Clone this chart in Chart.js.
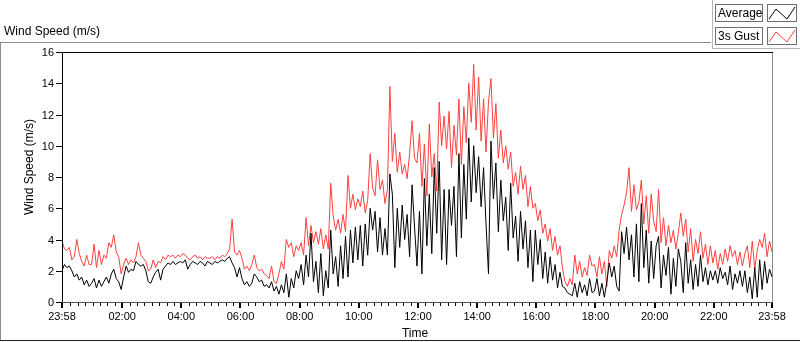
<!DOCTYPE html>
<html>
<head>
<meta charset="utf-8">
<script src="https://cdn.jsdelivr.net/npm/chart.js@4.4.1/dist/chart.umd.min.js"></script>
<style>
  html, body { margin: 0; padding: 0; background: #fff; }
  #wind { display: block; }
</style>
</head>
<body>
<canvas id="wind" width="800" height="342"></canvas>
<script>
// minutes from 23:58, one sample every 5 minutes
const stepMin = 5;

// Average wind speed (m/s), one row per hour
const avgSpeed = [
  2.0, 2.4, 2.2, 2.3, 2.0, 1.6, 1.8, 1.4, 1.6, 1.1, 1.4, 1.0,
  1.2, 1.5, 0.9, 1.4, 1.0, 1.3, 1.6, 1.2, 1.8, 2.1, 1.5, 1.3,
  0.8, 1.6, 2.3, 1.9, 2.1, 2.0, 2.6, 2.4, 2.3, 2.4, 2.0, 1.3,
  1.2, 1.6, 1.9, 2.1, 1.4, 2.1, 2.3, 2.5, 2.4, 2.6, 2.4, 2.5,
  2.6, 2.5, 2.7, 2.1, 2.4, 2.6, 2.5, 2.4, 2.6, 2.5, 2.3, 2.6,
  2.5, 2.4, 2.6, 2.5, 2.6, 2.7, 2.6, 2.8, 2.9, 2.5, 2.2, 1.6,
  2.2, 1.5, 1.1, 1.3, 1.0, 1.2, 1.8, 1.6, 1.3, 1.4, 1.0, 1.1,
  0.9, 1.3, 0.7, 1.0, 0.5, 1.1, 0.6, 1.8, 0.3, 1.5, 0.9, 2.0,
  1.5, 2.4, 1.1, 3.0, 1.6, 4.4, 1.3, 2.6, 0.6, 3.1, 0.4, 2.0,
  0.9, 4.6, 1.8, 2.9, 1.0, 3.6, 1.5, 4.2, 1.6, 4.6, 2.5, 4.8,
  2.7, 4.9, 2.3, 5.0, 3.0, 6.0, 4.6, 5.8, 3.2, 5.4, 3.0, 4.7,
  3.0, 8.2, 6.9, 2.2, 6.0, 3.5, 6.2, 4.0, 5.6, 2.9, 7.5, 4.8,
  2.3, 5.8, 1.8, 7.9, 3.6, 6.9, 3.1, 8.6, 4.4, 9.0, 2.7, 7.2,
  2.4, 7.2, 4.9, 7.4, 2.9, 9.5, 4.1, 8.8, 5.3, 10.5, 6.4, 10.0,
  7.0, 9.3, 6.1, 8.6, 5.0, 1.8, 10.3, 6.6, 8.9, 4.5, 7.8, 5.2,
  6.7, 3.3, 7.6, 4.1, 5.5, 2.6, 5.8, 3.4, 5.2, 2.2, 4.6, 1.3,
  4.6, 2.4, 4.0, 1.5, 3.2, 1.2, 2.9, 1.4, 2.4, 0.9, 1.9, 1.0,
  0.9, 0.6, 0.5, 0.4, 1.2, 0.3, 1.3, 0.6, 1.1, 0.4, 1.5, 0.6,
  0.7, 1.5, 0.4, 1.2, 0.3, 1.3, 2.5, 1.6, 2.3, 1.0, 0.7, 4.5,
  3.1, 4.8, 2.7, 4.3, 1.6, 5.0, 1.3, 6.3, 2.2, 4.6, 1.2, 3.9,
  1.5, 3.6, 4.2, 0.9, 3.0, 1.7, 3.5, 0.5, 2.8, 1.0, 3.4, 2.6,
  0.6, 3.8, 1.2, 2.7, 0.8, 2.4, 1.0, 3.0, 1.3, 2.2, 1.1, 2.0,
  1.4, 2.0, 1.2, 2.2, 1.5, 1.9, 1.1, 2.3, 0.8, 1.8, 1.2, 2.0,
  1.0, 2.0, 0.6, 1.6, 0.2, 2.2, 0.3, 2.7, 0.8, 2.6, 1.2, 2.1, 1.6
];

// 3 second gust (m/s)
const gustSpeed = [
  3.9, 3.4, 3.3, 3.5, 2.7, 2.9, 4.0, 3.1, 2.6, 2.3, 3.0, 2.4,
  2.4, 3.7, 2.2, 3.3, 2.4, 3.0, 2.8, 3.8, 3.5, 4.3, 3.2, 2.9,
  1.8, 2.4, 2.8, 2.4, 2.7, 2.5, 2.9, 3.8, 3.0, 2.8, 2.6, 2.0,
  2.1, 2.7, 2.2, 2.6, 2.5, 2.9, 2.7, 3.0, 2.9, 3.0, 2.8, 3.0,
  2.9, 3.1, 3.0, 2.8, 2.7, 2.9, 3.0, 2.8, 2.9, 2.7, 2.9, 2.8,
  2.8, 2.9, 2.7, 2.9, 2.8, 3.0, 2.9, 3.1, 3.4, 5.3, 3.2, 3.0,
  3.3, 2.8, 2.1, 2.3, 2.0, 2.4, 3.0, 2.2, 2.0, 2.1, 1.8, 1.7,
  1.5, 2.3, 1.3, 1.2, 1.8, 2.6, 2.1, 4.0, 3.5, 3.8, 2.9, 3.6,
  3.3, 3.8, 3.0, 5.4, 3.6, 4.9, 3.8, 4.5, 3.7, 4.7, 3.4, 4.3,
  3.4, 7.6, 5.5, 4.6, 5.3, 4.4, 5.6, 4.5, 8.1, 6.0, 6.9, 5.9,
  6.6, 6.1, 7.1, 5.7, 6.5, 9.5, 7.3, 6.8, 9.1, 7.2, 7.8, 6.3,
  7.2, 13.8, 9.0, 10.8, 8.3, 9.6, 8.2, 8.8, 7.9, 9.5, 11.6, 9.2,
  8.9, 10.8, 7.4, 10.1, 6.8, 11.4, 8.0, 9.5, 7.1, 12.8, 10.0, 11.9,
  9.8, 12.2, 8.6, 11.3, 9.4, 13.0, 8.8, 12.5, 10.2, 14.0, 11.5, 15.2,
  11.0, 14.4, 10.3, 13.0, 9.6, 12.8, 14.3, 10.5, 12.7, 9.2, 11.0, 8.9,
  10.0, 8.5, 9.6, 7.4, 8.3, 6.9, 8.7, 7.2, 8.1, 6.1, 7.4, 6.0,
  6.3, 5.2, 5.9, 4.4, 5.0, 3.9, 4.7, 3.3, 4.2, 3.0, 3.6, 2.2,
  1.3, 1.0, 1.5, 1.1, 3.0, 1.8, 2.6, 1.6, 2.2, 1.7, 3.0, 2.3,
  2.4, 1.6, 2.9, 1.8, 2.6, 1.0, 3.3, 2.8, 3.6, 2.9, 4.6, 5.6,
  6.2, 7.0, 8.6, 5.8, 7.5, 5.9, 6.4, 7.8, 5.0, 6.8, 4.4, 6.9,
  5.2, 4.5, 7.2, 3.8, 5.4, 3.6, 4.9, 3.8, 4.6, 3.4, 4.4, 5.7,
  4.2, 5.3, 3.2, 4.7, 2.6, 4.0, 3.1, 4.5, 2.8, 3.7, 2.4, 3.6,
  2.5, 3.3, 2.1, 3.1, 2.4, 3.4, 2.6, 3.6, 2.9, 3.3, 2.4, 3.2,
  2.3, 3.1, 3.6, 2.2, 3.9, 2.1, 3.3, 4.0, 3.5, 4.4, 2.9, 3.9, 3.2
];

// axis ticks
const timeTicks = [0, 122, 242, 362, 482, 602, 722, 842, 962, 1082, 1202, 1322, 1440];
const timeLabels = ['23:58', '02:00', '04:00', '06:00', '08:00', '10:00', '12:00',
                    '14:00', '16:00', '18:00', '20:00', '22:00', '23:58'];
const speedTicks = [0, 2, 4, 6, 8, 10, 12, 14, 16];

const legendNames = ['Average', '3s Gust'];
const lineColors = ['#000000', '#ff4040'];

const FONT = '"Liberation Sans", Arial, sans-serif';

// frame, axes, labels and legend in the LabVIEW look
const decorPlugin = {
  id: 'decor',
  afterDraw(chart) {
    const ctx = chart.ctx;
    const xs = chart.scales.x;
    const ys = chart.scales.y;
    const a = chart.chartArea;
    ctx.save();

    // graph title + outer panel
    ctx.fillStyle = '#000';
    ctx.font = '12px ' + FONT;
    ctx.textAlign = 'left';
    ctx.textBaseline = 'middle';
    ctx.fillText('Wind Speed (m/s)', 4, 32);

    ctx.strokeStyle = '#8c8c8c';
    ctx.lineWidth = 1;
    ctx.beginPath();
    ctx.moveTo(0, 42.5); ctx.lineTo(711, 42.5);
    ctx.moveTo(0.5, 42); ctx.lineTo(0.5, 341);
    ctx.stroke();
    ctx.strokeStyle = '#222';
    ctx.beginPath();
    ctx.moveTo(0, 340.5); ctx.lineTo(800, 340.5);
    ctx.stroke();

    // plot frame
    const L = Math.round(a.left), R = Math.round(a.right);
    const T = Math.round(a.top), B = Math.round(a.bottom);
    ctx.strokeStyle = '#000';
    ctx.beginPath();
    ctx.moveTo(L + 0.5, B); ctx.lineTo(L + 0.5, T + 0.5); ctx.lineTo(R + 1, T + 0.5);
    ctx.stroke();
    ctx.strokeStyle = '#8c8c8c';
    ctx.beginPath();
    ctx.moveTo(R + 0.5, T + 1); ctx.lineTo(R + 0.5, B + 1);
    ctx.stroke();
    ctx.strokeStyle = '#555';
    ctx.beginPath();
    ctx.moveTo(L, B + 0.5); ctx.lineTo(R + 1, B + 0.5);
    ctx.stroke();

    // y axis ticks and labels
    ctx.strokeStyle = '#000';
    ctx.fillStyle = '#000';
    ctx.font = '11px ' + FONT;
    ctx.textAlign = 'right';
    ctx.textBaseline = 'middle';
    speedTicks.forEach(v => {
      const py = Math.round(ys.getPixelForValue(v)) + 0.5;
      ctx.beginPath();
      ctx.moveTo(L - 6, py); ctx.lineTo(L, py);
      ctx.stroke();
      ctx.fillText(String(v), L - 8, py);
    });

    // x axis minor ticks every 15 min from 02:00, major ticks at labels
    ctx.beginPath();
    for (let t = 122 - 15 * 8; t < 1440; t += 15) {
      if (t < 5 || t > 1435) continue;
      const px = Math.round(xs.getPixelForValue(t)) + 0.5;
      ctx.moveTo(px, B + 1); ctx.lineTo(px, B + 4);
    }
    ctx.stroke();
    ctx.lineWidth = 2;
    ctx.beginPath();
    timeTicks.forEach(t => {
      const px = Math.round(xs.getPixelForValue(t));
      ctx.moveTo(px, B + 1); ctx.lineTo(px, B + 6);
    });
    ctx.stroke();
    ctx.lineWidth = 1;
    ctx.textAlign = 'center';
    timeTicks.forEach((t, i) => {
      const px = xs.getPixelForValue(t);
      ctx.fillText(timeLabels[i], px, B + 15);
    });

    // axis titles
    ctx.font = '12px ' + FONT;
    ctx.fillText('Time', 415, 334);
    ctx.save();
    ctx.translate(30, 167);
    ctx.rotate(-Math.PI / 2);
    ctx.fillText('Wind Speed (m/s)', 0, 0);
    ctx.restore();

    // legend
    ctx.strokeStyle = '#b4b4b4';
    ctx.beginPath();
    ctx.moveTo(712.5, 0); ctx.lineTo(712.5, 48.5); ctx.lineTo(800, 48.5);
    ctx.stroke();
    legendNames.forEach((name, i) => {
      const top = 4 + i * 23;
      ctx.fillStyle = '#fff';
      ctx.fillRect(715, top, 48, 18);
      ctx.fillRect(767, top, 30, 18);
      ctx.strokeStyle = '#6e6e6e';
      ctx.strokeRect(715.5, top + 0.5, 47, 17);
      ctx.strokeRect(767.5, top + 0.5, 29, 17);
      ctx.fillStyle = '#000';
      ctx.font = '12px ' + FONT;
      ctx.textAlign = 'left';
      ctx.fillText(name, 718, top + 9.5);
      ctx.strokeStyle = lineColors[i];
      ctx.beginPath();
      ctx.moveTo(769, top + 15); ctx.lineTo(776, top + 5);
      ctx.lineTo(787, top + 15); ctx.lineTo(795, top + 3);
      ctx.stroke();
    });

    ctx.restore();
  }
};

const toPoints = arr => arr.map((v, i) => ({ x: i * stepMin, y: v }));

new Chart(document.getElementById('wind'), {
  type: 'line',
  data: {
    datasets: [
      {
        label: legendNames[0],
        data: toPoints(avgSpeed),
        borderColor: lineColors[0],
        borderWidth: 1,
        pointRadius: 0,
        tension: 0
      },
      {
        label: legendNames[1],
        data: toPoints(gustSpeed),
        borderColor: lineColors[1],
        borderWidth: 1,
        pointRadius: 0,
        tension: 0
      }
    ]
  },
  options: {
    responsive: false,
    animation: false,
    layout: { padding: { left: 62, right: 28, top: 52, bottom: 40 } },
    plugins: { legend: { display: false }, tooltip: { enabled: false } },
    scales: {
      x: { type: 'linear', min: 0, max: 1440, display: false },
      y: { min: 0, max: 16, display: false }
    }
  },
  plugins: [decorPlugin]
});
</script>
</body>
</html>
